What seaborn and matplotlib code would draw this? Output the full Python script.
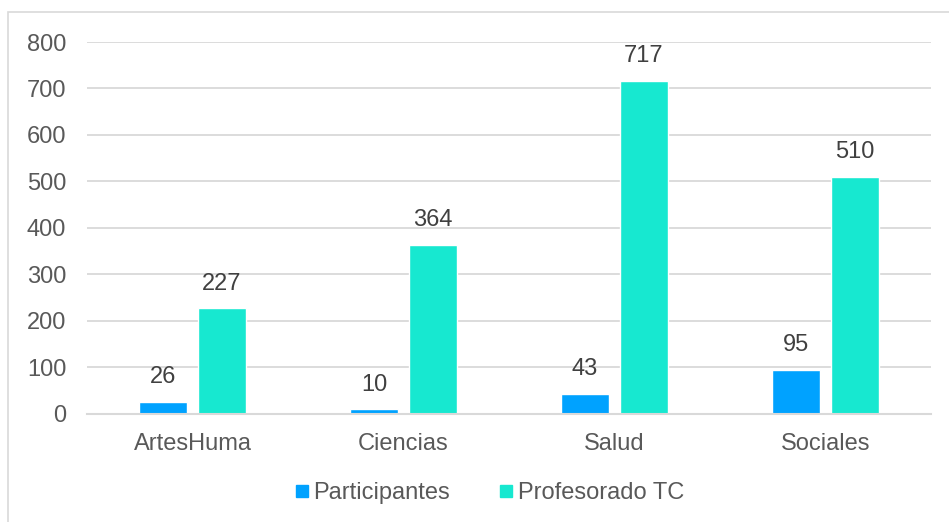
import matplotlib
matplotlib.use("Agg")
import matplotlib.pyplot as plt
import pandas as pd
import seaborn as sns
from matplotlib.patches import Rectangle
from matplotlib.lines import Line2D

# datos
areas = ["ArtesHuma", "Ciencias", "Salud", "Sociales"]
participantes = [26, 10, 43, 95]
profesorado = [227, 364, 717, 510]
series = ["Participantes", "Profesorado TC"]
colores = ["#00A2FF", "#17E8D0"]

df = pd.DataFrame({
    "Area": areas * 2,
    "Serie": [series[0]] * 4 + [series[1]] * 4,
    "Valor": participantes + profesorado,
})

sns.set_style("white")
plt.rcParams["font.family"] = ["Liberation Sans", "DejaVu Sans"]
TAM = 17

fig = plt.figure(figsize=(9.49, 5.22), dpi=100)
ax = fig.add_axes([0.0917, 0.2075, 0.981 - 0.0917, 0.9195 - 0.2075])

sns.barplot(data=df, x="Area", y="Valor", hue="Serie", palette=colores,
            width=0.56, gap=0.2, saturation=1, ax=ax, legend=False)

# etiquetas de datos
for cont in ax.containers:
    for barra in cont:
        h = barra.get_height()
        ax.annotate(f"{int(round(h))}", (barra.get_x() + barra.get_width() / 2, h),
                    xytext=(0, 17.5), textcoords="offset points", ha="center", va="center",
                    fontsize=TAM, color="#404040")

ax.set_ylim(0, 800)
ax.set_xlim(-0.5, 3.5)
ax.set_yticks(range(0, 801, 100))
ax.yaxis.grid(True, color="#D9D9D9", linewidth=1.3)
ax.set_axisbelow(True)
for s in ["top", "right", "left"]:
    ax.spines[s].set_visible(False)
ax.spines["bottom"].set_color("#D9D9D9")
ax.spines["bottom"].set_linewidth(1.5)
ax.tick_params(axis="both", length=0, labelsize=TAM, labelcolor="#595959")
ax.tick_params(axis="x", pad=14)
ax.tick_params(axis="y", pad=15)
ax.set_xlabel("")
ax.set_ylabel("")

# leyenda
manejadores = [Line2D([0], [0], marker="s", linestyle="", markersize=9,
                      markerfacecolor=c, markeredgecolor=c) for c in colores]
fig.legend(manejadores, series, loc="center", bbox_to_anchor=(0.515, 0.055),
           ncol=2, frameon=False, fontsize=TAM, labelcolor="#595959",
           handlelength=0.7, handletextpad=0.15, columnspacing=2.0)

# borde del area del grafico
fig.patches.append(Rectangle((8 / 949, -0.1), 1.2, (522 - 12) / 522 + 0.1,
                             transform=fig.transFigure, fill=False,
                             edgecolor="#D9D9D9", linewidth=1.2))

fig.savefig("out.png", dpi=100)
